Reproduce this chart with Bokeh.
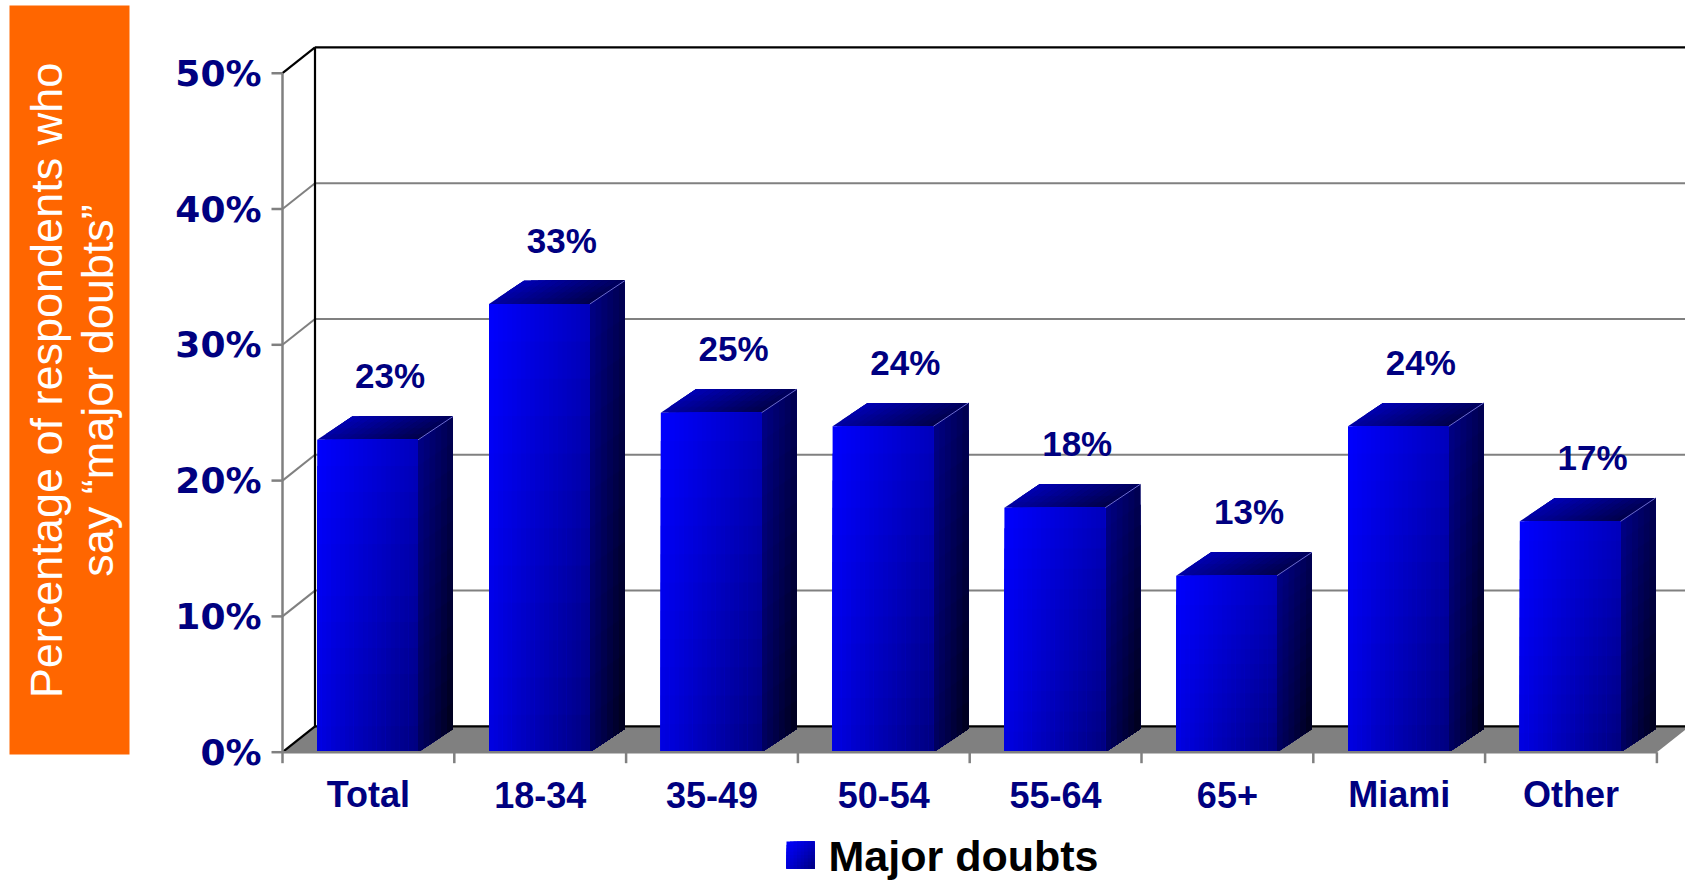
import numpy as np
from bokeh.plotting import figure
from bokeh.models import Range1d
from bokeh.core.properties import value
from bokeh.embed import file_html
from bokeh.resources import INLINE

# ---------------- data ----------------
categories = ["Total", "18-34", "35-49", "50-54", "55-64", "65+", "Miami", "Other"]
major_doubts = [23, 33, 25, 24, 18, 13, 24, 17]
bar_labels = ["23%", "33%", "25%", "24%", "18%", "13%", "24%", "17%"]
y_ticks = [0, 10, 20, 30, 40, 50]
y_tick_labels = ["0%", "10%", "20%", "30%", "40%", "50%"]
series_name = "Major doubts"
title_lines = ["Percentage of respondents who", "say \u201cmajor doubts\u201d"]

# ---------------- layout (pixels on the page) ----------------
W, H = 1685, 880
OFF = 0
X0, Y0 = 282.0, 751.7      # front axis / 0% line on the page
SX, SY = 171.8, 13.58      # px per category, px per percent


def ux(X):
    return (X - X0) / SX


def vy(Y):
    return (Y0 - Y) / SY


def du(px):
    return px / SX


def dv(px):
    return px / SY


WALL_DU, WALL_DV = du(32.5), dv(25.8)
FRONT_OFF, FRONT_W = du(34.7), du(100.8)
BAR_DU, BAR_DV = du(35.0), dv(23.4)
LABEL_DU, LABEL_DV = du(21.6), dv(64.0)

NAVY = "#000080"
GRAY = "#808080"

xr = Range1d(ux(OFF), ux(OFF + W))
yr = Range1d(vy(OFF + H), vy(OFF))

p = figure(width=W, height=H, x_range=xr, y_range=yr, output_backend="svg",
           toolbar_location=None, min_border=0, x_axis_type=None, y_axis_type=None)
p.outline_line_color = None
p.background_fill_color = "white"
p.border_fill_color = "white"

n = len(categories)
y_max = y_ticks[-1]
x_end = xr.end + 0.5


def blue(b):
    b = max(0, min(255, int(round(b))))
    return "#%02x%02x%02x" % (0, 0, b)


# ---------------- walls & floor ----------------
p.patch([0, n, n + WALL_DU, WALL_DU], [0, 0, WALL_DV, WALL_DV],
        fill_color=GRAY, line_color=None)
inner = y_ticks[1:-1]
p.segment(x0=[WALL_DU] * len(inner), y0=[t + WALL_DV for t in inner],
          x1=[x_end] * len(inner), y1=[t + WALL_DV for t in inner],
          line_color=GRAY, line_width=2)
p.segment(x0=[0] * len(inner), y0=inner,
          x1=[WALL_DU] * len(inner), y1=[t + WALL_DV for t in inner],
          line_color=GRAY, line_width=2)
p.segment(x0=[WALL_DU, WALL_DU, WALL_DU, 0, 0],
          y0=[y_max + WALL_DV, WALL_DV, WALL_DV, 0, y_max],
          x1=[x_end, WALL_DU, x_end, WALL_DU, WALL_DU],
          y1=[y_max + WALL_DV, y_max + WALL_DV, WALL_DV, WALL_DV, y_max + WALL_DV],
          line_color="black", line_width=2.2)

# ---------------- bars (3-D, gradient filled, painted back-to-front so no seams) ----------------
NX, NY = 22, 12
NB, NS = 6, 12
NA, ND = 14, 4
fl, fr, ft, fb, fc = [], [], [], [], []
sxs, sys_, scs = [], [], []
txs, tys, tcs = [], [], []
edge_x0, edge_y0, edge_x1, edge_y1 = [], [], [], []
for i, v in enumerate(major_doubts):
    x0 = i + FRONT_OFF
    x1 = x0 + FRONT_W
    # front face
    for a in range(NX):
        for b in range(NY):
            tx = (a + 0.5) / NX
            ty = (b + 0.5) / NY
            fl.append(x0 + FRONT_W * a / NX)
            fr.append(x1)
            ft.append(v * (1 - b / NY))
            fb.append(0)
            fc.append(blue(255 - 65 * tx - 30 * ty - 35 * tx * ty))
    # side face
    for a in range(NB):
        for b in range(NS):
            ta = (a + 0.5) / NB
            tb = (b + 0.5) / NS
            xa0 = x1 + BAR_DU * a / NB
            xa1 = x1 + BAR_DU
            ya0 = BAR_DV * a / NB
            ya1 = BAR_DV
            yt = v * (1 - b / NS)
            sxs.append([xa0, xa1, xa1, xa0])
            sys_.append([ya0, ya1, yt + ya1, yt + ya0])
            scs.append(blue(135 - 55 * ta - 35 * tb - 20 * ta * tb))
    # top face
    for a in range(NA):
        for d in range(ND):
            ta = (a + 0.5) / NA
            td = (d + 0.5) / ND   # 0 = front, 1 = back
            xa0 = x0 + FRONT_W * a / NA
            d0 = d / ND
            txs.append([xa0 + BAR_DU * d0, x1 + BAR_DU * d0, x1 + BAR_DU, xa0 + BAR_DU])
            tys.append([v + BAR_DV * d0, v + BAR_DV * d0, v + BAR_DV, v + BAR_DV])
            tcs.append(blue(160 - 90 * ta + 25 * td))
    edge_x0.append(x1)
    edge_y0.append(v)
    edge_x1.append(x1 + BAR_DU)
    edge_y1.append(v + BAR_DV)

p.patches(xs=sxs, ys=sys_, fill_color=scs, line_color=None)
p.patches(xs=txs, ys=tys, fill_color=tcs, line_color=None)
p.quad(left=fl, right=fr, top=ft, bottom=fb, fill_color=fc, line_color=None)
p.segment(x0=edge_x0, y0=edge_y0, x1=edge_x1, y1=edge_y1, line_color="#6a6ad0", line_width=1)

# ---------------- front axes & ticks ----------------
p.segment(x0=[0, 0], y0=[0, 0], x1=[0, n], y1=[y_max, 0], line_color=GRAY, line_width=2.5)
p.segment(x0=[-du(11)] * len(y_ticks), y0=y_ticks, x1=[0] * len(y_ticks), y1=y_ticks,
          line_color=GRAY, line_width=2.5)
bounds = list(range(n + 1))
p.segment(x0=bounds, y0=[0] * len(bounds), x1=bounds, y1=[-dv(11)] * len(bounds),
          line_color=GRAY, line_width=2.5)

# ---------------- texts ----------------
p.text(x=[ux(261)] * len(y_ticks), y=y_ticks, text=y_tick_labels,
       text_font=value("DejaVu Sans"), text_font_style="bold", text_font_size="36px",
       text_color=NAVY, text_align="right", text_baseline="middle")
centers = [i + 0.5 for i in range(n)]
p.text(x=centers, y=[vy(794)] * n, text=categories,
       text_font=value("Liberation Sans"), text_font_style="bold", text_font_size="36px",
       text_color=NAVY, text_align="center", text_baseline="middle")
p.text(x=[c + LABEL_DU for c in centers], y=[val + LABEL_DV for val in major_doubts],
       text=bar_labels,
       text_font=value("Liberation Sans"), text_font_style="bold", text_font_size="35px",
       text_color=NAVY, text_align="center", text_baseline="middle")

# ---------------- orange axis-title box ----------------
p.quad(left=[ux(9)], right=[ux(129)], top=[vy(5)], bottom=[vy(754)],
       fill_color="#ff6600", line_color=None)
p.text(x=[ux(46), ux(97)], y=[vy(380), vy(390)], text=title_lines, angle=np.pi / 2,
       text_font=value("Liberation Sans"), text_font_size="45px", text_color="white",
       text_align="center", text_baseline="middle")

# ---------------- legend ----------------
LX0, LX1, LYT, LYB = 786, 814, 841, 868
lg_l, lg_r, lg_t, lg_b, lg_c = [], [], [], [], []
NL = 8
for a in range(NL):
    for b in range(NL):
        tx = (a + 0.5) / NL
        ty = (b + 0.5) / NL
        lg_l.append(ux(LX0 + (LX1 - LX0) * a / NL))
        lg_r.append(ux(LX1))
        lg_t.append(vy(LYT + (LYB - LYT) * b / NL))
        lg_b.append(vy(LYB))
        lg_c.append(blue(255 - 60 * tx - 40 * ty - 30 * tx * ty))
p.quad(left=lg_l, right=lg_r, top=lg_t, bottom=lg_b, fill_color=lg_c, line_color=None)
p.text(x=[ux(828)], y=[vy(855)], text=[series_name],
       text_font=value("Liberation Sans"), text_font_style="bold", text_font_size="43px",
       text_color="black", text_align="left", text_baseline="middle")

open("out.html", "w").write(file_html(p, INLINE))
